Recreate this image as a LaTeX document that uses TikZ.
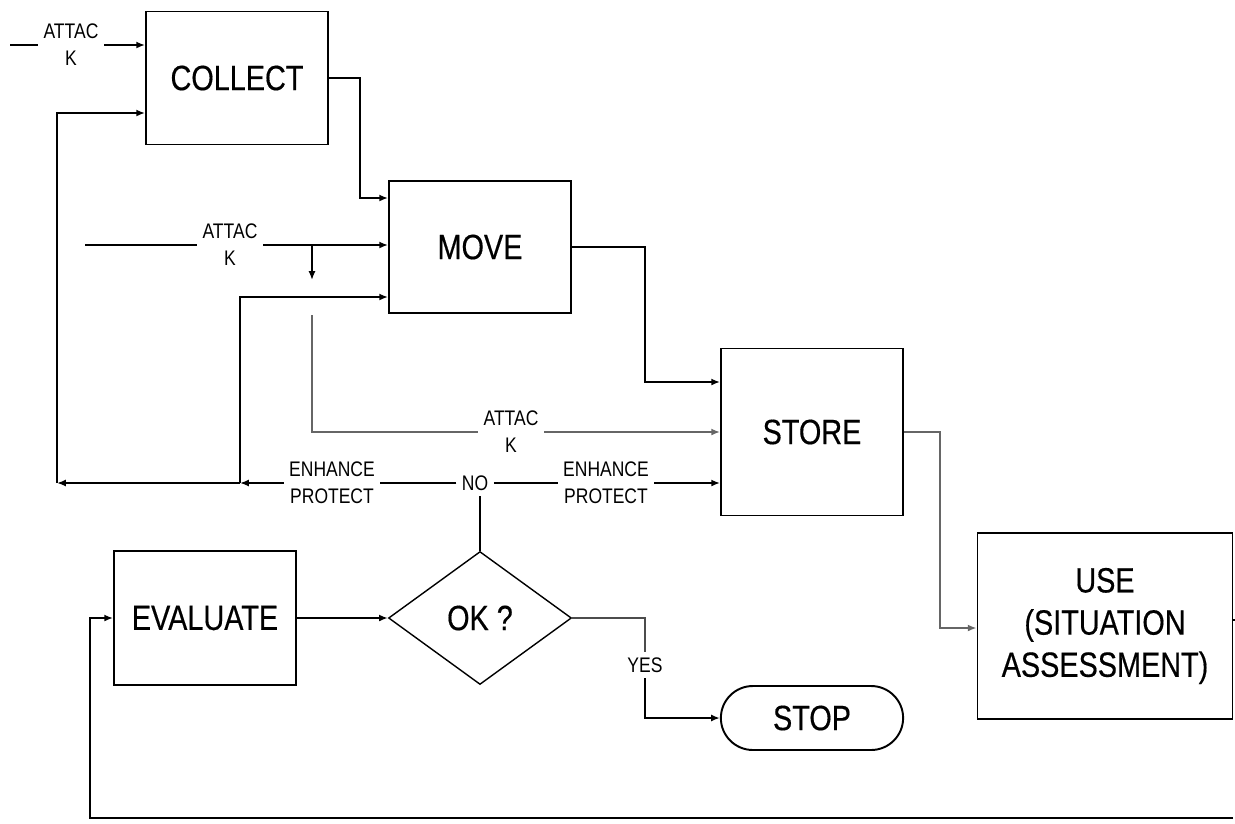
\documentclass[tikz,border=0pt]{standalone}
\usepackage{fontspec}
\setmainfont{Liberation Sans}
\newfontfamily\boxfont[FakeStretch=0.82,FakeBold=0.4]{Liberation Sans}
\newfontfamily\lblfont[FakeStretch=0.83]{Liberation Sans}
\usepackage{tikz}
\usetikzlibrary{arrows.meta}
\usetikzlibrary{shapes.geometric,shapes.misc}

\tikzset{
  blk/.style={draw,line width=1.1pt,minimum width=3.64cm,font=\boxfont\fontsize{20}{24}\selectfont,align=center},
  lbl/.style={font=\lblfont\fontsize{12}{15.5}\selectfont,align=center,inner sep=3pt},
  wire/.style={line width=1pt},
  flow/.style={wire,-{Latex[length=5pt,width=4pt]}},
}

\begin{document}
\begin{tikzpicture}[x=0.02cm,y=-0.02cm]
\useasboundingbox (0,0) rectangle (1235,823);

% blocks
\node[blk,minimum height=2.66cm] (collect) at (237,78) {COLLECT};
\node[blk,minimum height=2.64cm] (move) at (480,247) {MOVE};
\node[blk,minimum height=3.34cm] (store) at (812,432) {STORE};
\node[blk,minimum width=5.1cm,minimum height=3.72cm] (use) at (1105,626) {USE\\(SITUATION\\ASSESSMENT)};
\node[blk,minimum height=2.68cm] (eval) at (205,618) {EVALUATE};
\node[blk,diamond,line width=0.8pt,minimum width=3.66cm,minimum height=2.66cm] (ok) at (480,618) {OK ?};
\node[blk,rounded rectangle,minimum width=3.88cm,minimum height=1.28cm] (stop) at (812,718) {STOP};

% labels on the lines
\node[lbl] (atk1) at (71,45) {ATTAC\\K};
\node[lbl] (atk2) at (230,245) {ATTAC\\K};
\node[lbl] (atk3) at (511,432) {ATTAC\\K};
\node[lbl] (enh1) at (332,483) {ENHANCE\\PROTECT};
\node[lbl] (no) at (475,483) {NO};
\node[lbl] (enh2) at (606,483) {ENHANCE\\PROTECT};
\node[lbl] (yes) at (645,665) {YES};

% attack inputs
\coordinate (in1) at (10,45);
\draw[wire] (in1) -- (atk1.west);
\draw[flow] (atk1.east) -- (collect.west |- atk1);
\coordinate (in2) at (85,245);
\draw[wire] (in2) -- (atk2.west);
\draw[flow] (atk2.east) -- (move.west |- atk2);
\coordinate (tap) at (312,245);
\coordinate (tapend) at (312,280);
\draw[flow] (tap) -- (tapend);
\coordinate (tap2) at (312,315);
\draw[wire,black!60] (tap2) |- (atk3.west);
\draw[flow,black!60] (atk3.east) -- (store.west |- atk3);

% main chain
\coordinate (k1) at (360,198);
\draw[flow] (collect.east) -| (k1) -- (move.west |- k1);
\coordinate (k2) at (645,382);
\draw[flow] (move.east) -| (k2) -- (store.west |- k2);
\coordinate (k3) at (940,628);
\draw[flow,black!60] (store.east) -| (k3) -- (use.west |- k3);

% enhance / protect
\draw[wire] (ok.north) -- (ok.north |- no.south);
\draw[wire] (no.west) -- (enh1.east);
\coordinate (j1) at (240,483);
\coordinate (j2) at (57,483);
\draw[flow] (enh1.west) -- (j1);
\draw[flow] (j1) -- (j2);
\coordinate (k4) at (240,297);
\draw[flow] (j1) -- (k4) -- (move.west |- k4);
\coordinate (k5) at (57,113);
\draw[flow] (j2) -- (k5) -- (collect.west |- k5);
\draw[wire] (no.east) -- (enh2.west);
\draw[flow] (enh2.east) -- (store.west |- enh2);

% evaluate
\draw[flow] (eval.east) -- (ok.west);
\draw[wire,black!70] (ok.east) -| (yes.north);
\draw[flow] (yes.south) |- (stop.west);

% loop back
\coordinate (out) at (1235,620);
\draw[wire] (use.east |- out) -- (out);
\coordinate (back) at (1233,818);
\coordinate (k6) at (90,618);
\draw[flow] (back) -| (k6) -- (eval.west);
\end{tikzpicture}
\end{document}
